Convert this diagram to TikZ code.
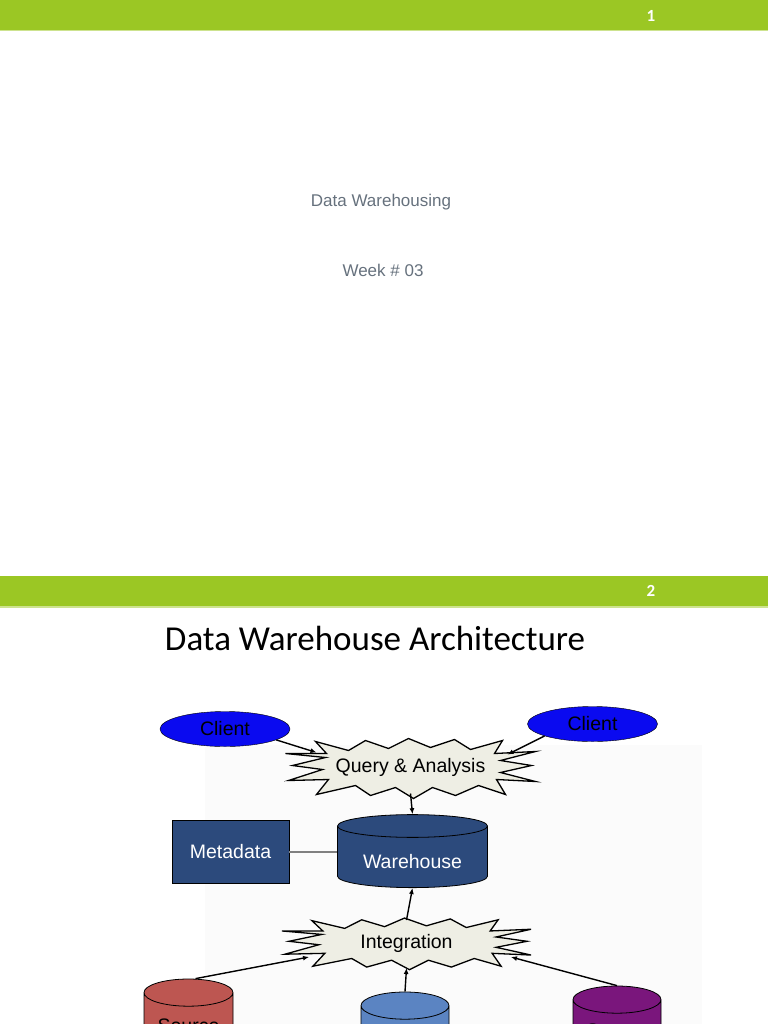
\documentclass[tikz,border=0pt]{standalone}
\usepackage{fontspec}
\setmainfont{Liberation Sans}
\newfontfamily\carlito{Carlito}
\usetikzlibrary{positioning, arrows.meta, shapes.geometric}
\definecolor{barGreen}{HTML}{9BC724}
\definecolor{barLine}{HTML}{CDE38F}
\definecolor{subGray}{HTML}{66717D}
\definecolor{whBlue}{HTML}{2C4A7C}
\definecolor{clientBlue}{HTML}{0A0AF0}
\definecolor{burstFill}{HTML}{EEEEE4}
\definecolor{srcRed}{HTML}{BD5651}
\definecolor{srcBlue}{HTML}{5B84C2}
\definecolor{srcPurple}{HTML}{7A167C}

% jagged outline round a centre, in px of the Query & Analysis size
\newcommand{\burstoutline}{(-125,-14) -- (-85,-10) -- (-118,-2) -- (-88,2) -- (-122,13) -- (-82,12)
  -- (-94,27) -- (-55,18) -- (-40,28) -- (-15,20) -- (3,31) -- (22,20) -- (45,28) -- (68,18)
  -- (95,27) -- (86,12) -- (125,14) -- (90,5) -- (121,-2) -- (90,-7) -- (125,-16) -- (84,-14)
  -- (92,-27) -- (60,-18) -- (44,-28) -- (20,-20) -- (-2,-29) -- (-22,-19) -- (-45,-27)
  -- (-62,-17) -- (-95,-26) -- (-84,-14) -- cycle}

\begin{document}
\begin{tikzpicture}[x=1pt, y=-1pt,
    lbl/.style={font=\fontsize{19.5}{19.5}\selectfont},
    client/.style={ellipse, draw, fill=clientBlue, minimum width=130pt, minimum height=35pt, inner sep=0pt, lbl},
    burst/.style={draw, line width=1.3pt, fill=burstFill, line join=miter},
    db/.style={cylinder, shape border rotate=90, draw, line width=0.8pt, inner sep=0pt, lbl},
    arr/.style={-{Latex[length=6pt,width=5pt]}, line width=1.4pt},
  ]
  \useasboundingbox (0,0) rectangle (768,1024);
  \clip (0,0) rectangle (768,1024);
  % slide 1
  \fill[barGreen] (0,0) rectangle (768,30);
  \fill[barLine] (0,30) rectangle (768,31.5);
  \node[text=white, font=\carlito\bfseries\fontsize{17}{17}\selectfont] (n1) at (651,16) {1};
  \node[text=subGray, font=\fontsize{17}{17}\selectfont] (title1) at (381,202) {Data Warehousing};
  \node[text=subGray, font=\fontsize{17}{17}\selectfont] (week) at (383,270) {Week \# 03};
  % slide 2
  \fill[barGreen] (0,576) rectangle (768,606);
  \fill[barLine] (0,606) rectangle (768,607.5);
  \node[text=white, font=\carlito\bfseries\fontsize{17}{17}\selectfont] (n2) at (651,591) {2};
  \node[font=\carlito\fontsize{35}{35}\selectfont] (title2) at (375,638) {Data Warehouse Architecture};
  \fill[black!1.5] (205,745) rectangle (702,1024);
  % diagram
  \coordinate (qac) at (410.5,767.5);
  \coordinate (integc) at (406.5,943);
  \draw[burst, shift={(qac)}] \burstoutline;
  \draw[burst, shift={(integc)}, xscale=0.996, yscale=0.86] \burstoutline;
  \node[client] (cl1) at (225,729) {Client};
  \node[client] (cl2) at (592.5,724) {Client};
  \node[lbl] (qa) at (qac) {Query \& Analysis};
  \node[db, fill=whBlue, text=white, aspect=0.23, minimum width=150pt, minimum height=73pt, text height=22pt, text depth=0pt] (wh) at (412.5,857) {Warehouse};
  \node[draw, fill=whBlue, text=white, minimum width=117pt, minimum height=63pt, lbl] (meta) at (230.5,851.5) {Metadata};
  \node[lbl] (integ) at (integc) {Integration};
  \node[db, fill=srcRed, aspect=0.44, minimum width=89pt, minimum height=90pt, text depth=11pt] (s1) at (188.5,1031) {Source};
  \node[db, fill=srcBlue, aspect=0.44, minimum width=88pt, minimum height=90pt, text depth=6pt] (s2) at (405,1044) {Source};
  \node[db, fill=srcPurple, aspect=0.44, minimum width=88pt, minimum height=90pt, text depth=14pt] (s3) at (617,1038) {Source};
  % connectors
  \draw[arr] (cl1.-12) -- ([shift={(-94,-15)}]qa.center);
  \draw[arr] (cl2.194) -- ([shift={(97,-13)}]qa.center);
  \draw[arr] ([yshift=-26pt]qa.center) -- (wh.north);
  \draw[line width=2pt, black!50] (meta.east) -- (meta.east -| wh.west);
  \draw[arr] ([yshift=23pt]integ.center) -- (wh.south);
  \draw[arr] ([xshift=7pt]s1.north) -- ([shift={(-97.5,14)}]integ.center);
  \draw[arr] (s2.north) -- ([yshift=-25pt]integ.center);
  \draw[arr] (s3.north) -- ([shift={(104.5,14)}]integ.center);
\end{tikzpicture}
\end{document}
